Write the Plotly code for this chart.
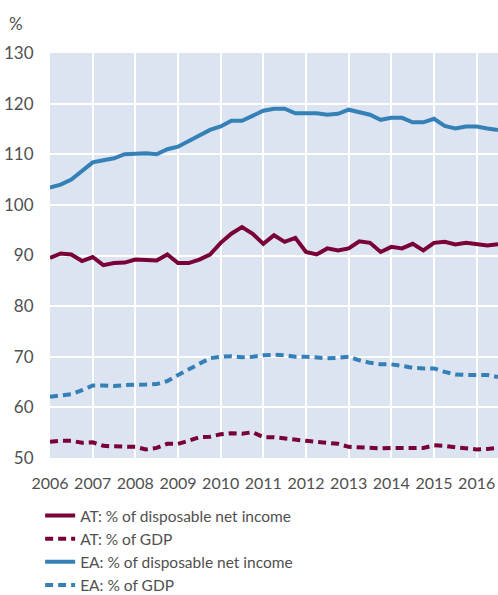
import plotly.graph_objects as go

# Quarterly observations 2006 Q1 .. 2016 Q3
quarters = [f"{y}Q{q}" for y in range(2006, 2017) for q in range(1, 5)][:43]
x_pos = [int(s[:4]) + (int(s[-1]) - 1) * 0.25 for s in quarters]

at_income = [89.5, 90.4, 90.2, 88.9, 89.7, 88.1, 88.5, 88.6, 89.2, 89.1,
             89.0, 90.2, 88.5, 88.5, 89.2, 90.2, 92.5, 94.3, 95.6, 94.3,
             92.3, 94.0, 92.7, 93.5, 90.7, 90.2, 91.4, 91.0, 91.4, 92.8,
             92.5, 90.7, 91.7, 91.4, 92.3, 91.0, 92.5, 92.7, 92.2, 92.5,
             92.2, 92.0, 92.2]
at_gdp = [53.2, 53.4, 53.4, 53.0, 53.1, 52.4, 52.3, 52.2, 52.2, 51.7,
          52.0, 52.8, 52.8, 53.4, 54.1, 54.2, 54.7, 54.9, 54.8, 55.1,
          54.1, 54.1, 53.8, 53.6, 53.4, 53.2, 53.0, 52.8, 52.2, 52.1,
          52.1, 51.9, 52.0, 52.0, 52.0, 52.0, 52.5, 52.4, 52.1, 52.0,
          51.7, 51.8, 52.0]
ea_income = [103.4, 104.0, 105.0, 106.7, 108.4, 108.8, 109.2, 110.0, 110.1, 110.2,
             110.0, 111.0, 111.5, 112.6, 113.6, 114.8, 115.5, 116.6, 116.6, 117.5,
             118.6, 119.0, 119.0, 118.1, 118.1, 118.1, 117.8, 118.0, 118.8, 118.3,
             117.8, 116.8, 117.2, 117.2, 116.3, 116.3, 117.0, 115.6, 115.1, 115.5,
             115.5, 115.1, 114.8]
ea_gdp = [62.1, 62.3, 62.6, 63.4, 64.3, 64.3, 64.2, 64.4, 64.4, 64.5,
          64.6, 65.2, 66.4, 67.5, 68.7, 69.7, 70.0, 70.1, 69.9, 70.0,
          70.3, 70.4, 70.3, 70.0, 70.0, 69.9, 69.7, 69.8, 70.0, 69.3,
          68.8, 68.5, 68.5, 68.2, 67.8, 67.7, 67.7, 67.0, 66.5, 66.4,
          66.5, 66.4, 66.0]

series_names = ["AT: % of disposable net income", "AT: % of GDP",
                "EA: % of disposable net income", "EA: % of GDP"]
year_ticks = list(range(2006, 2017))
y_ticks = list(range(50, 131, 10))

AT_COLOR = "#7a0038"
EA_COLOR = "#3580b6"
TEXT = "#505050"
FONT = "Lato"

fig = go.Figure()
specs = [(at_income, AT_COLOR, "solid"), (at_gdp, AT_COLOR, "8px,5px"),
         (ea_income, EA_COLOR, "solid"), (ea_gdp, EA_COLOR, "8px,5px")]
for name, (vals, col, dash) in zip(series_names, specs):
    fig.add_trace(go.Scatter(x=x_pos, y=vals, mode="lines", name=name,
                             line=dict(color=col, width=4, dash=dash)))

fig.update_layout(
    width=498, height=595,
    margin=dict(l=50, r=0, t=53, b=137, autoexpand=False),
    paper_bgcolor="white", plot_bgcolor="#dbe4f0",
    font=dict(family=FONT, size=17, color=TEXT),
    showlegend=True,
    legend=dict(x=-0.022, xanchor="left", y=-0.101, yanchor="top",
                orientation="v", font=dict(size=15.5, color=TEXT),
                bgcolor="rgba(0,0,0,0)", tracegroupgap=0, itemwidth=30),
    annotations=[dict(text="%", xref="paper", yref="paper", x=-0.097, y=1.073,
                      xanchor="left", yanchor="middle", showarrow=False,
                      font=dict(size=17, color=TEXT, family=FONT))],
)
fig.update_xaxes(range=[2006, 2016.5], tickvals=year_ticks,
                 ticktext=[str(y) for y in year_ticks],
                 showgrid=True, gridcolor="white", gridwidth=1.5,
                 zeroline=False, showline=False, automargin=False,
                 ticks="outside", ticklen=11, tickcolor="rgba(0,0,0,0)",
                 tickfont=dict(size=16, color=TEXT))
fig.update_yaxes(range=[50, 130], tickvals=y_ticks,
                 showgrid=True, gridcolor="white", gridwidth=1.5,
                 zeroline=False, showline=False, automargin=False,
                 ticks="outside", ticklen=12, tickcolor="rgba(0,0,0,0)",
                 tickfont=dict(size=17, color=TEXT))

fig.write_html("out.html", config={"displayModeBar": False},
               post_script="document.body.style.margin='0';"
                           "document.body.style.overflow='hidden';")
